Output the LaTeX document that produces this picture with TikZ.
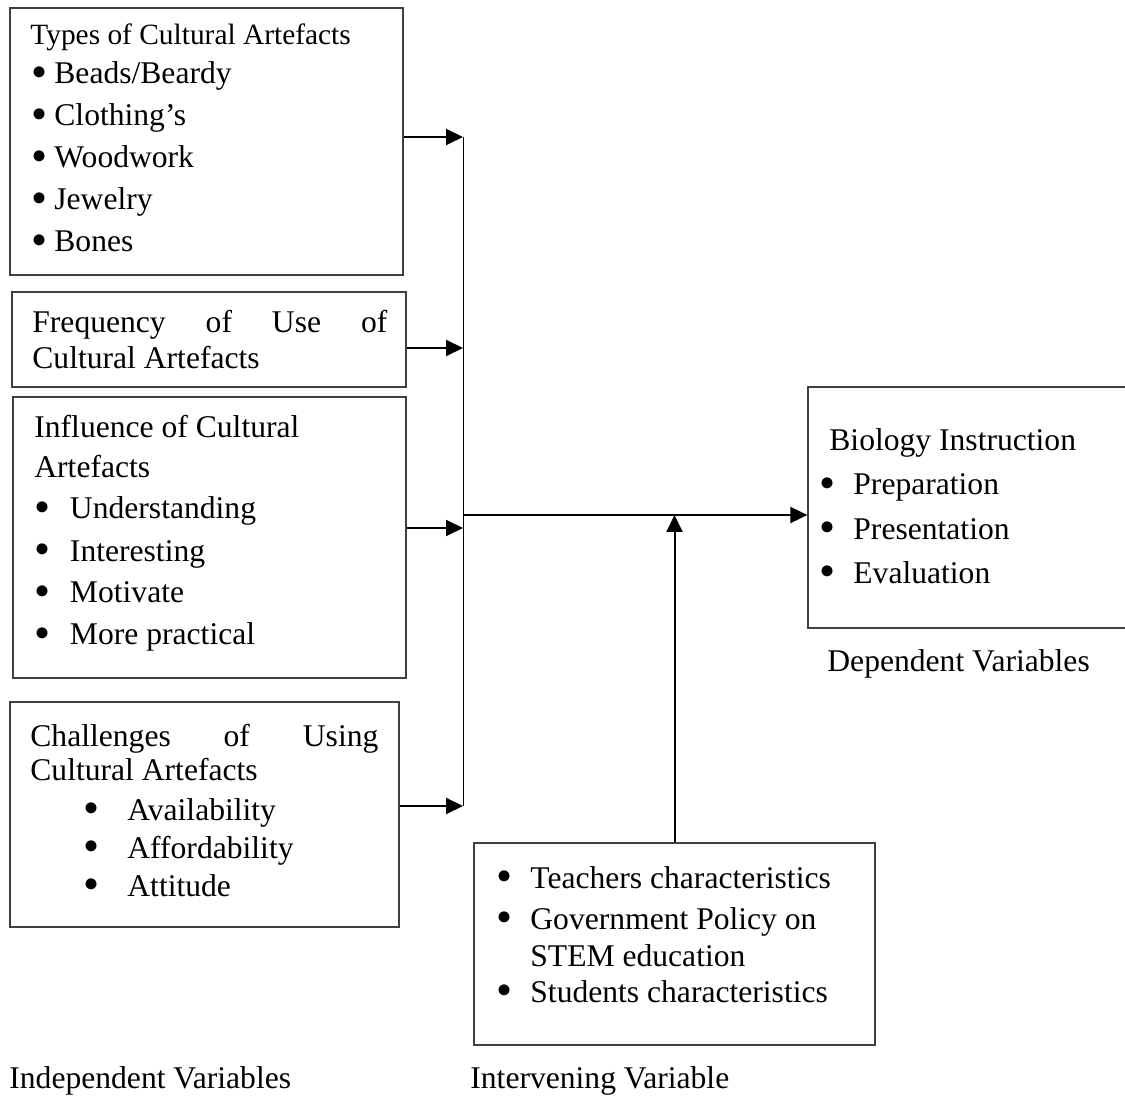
\documentclass[tikz,border=0pt]{standalone}
\usepackage{fontspec}
\usepackage{graphicx}
\setmainfont{Liberation Serif}
\usetikzlibrary{arrows.meta,fit}
\newcommand\bodysz{\fontsize{15.8pt}{19pt}\selectfont}
\newcommand\titlesz{\fontsize{14.7pt}{18pt}\selectfont}
\newcommand\bul[1]{\makebox[#1][l]{\smash{\raisebox{-0.12em}{\scalebox{1.45}{•}}}}}
\begin{document}
\begin{tikzpicture}[x=0.5pt,y=-0.5pt,
  box/.style={draw=black!75, line width=0.65pt, inner sep=0pt},
  txt/.style={anchor=base west, inner sep=0pt, font=\bodysz},
  ttl/.style={anchor=base west, inner sep=0pt, font=\titlesz},
  arr/.style={line width=1pt, -{Triangle[length=8.5pt,width=8pt]}},
  thin/.style={line width=0.5pt}]
\clip (0,0) rectangle (1125,1101);
% boxes
\node[box, fit={(10,8) (403,275)}] (b1) {};
\node[box, fit={(12,292) (406,387)}] (b2) {};
\node[box, fit={(13,397) (406,678)}] (b3) {};
\node[box, fit={(10,702) (399,927)}] (b5) {};
\node[box, fit={(808,387) (1140,628)}] (b4) {};
\node[box, fit={(474,843) (875,1045)}] (b6) {};
% texts box 1
\node[ttl] (t1) at (30,45) {Types of Cultural Artefacts};
\node[txt] (t1a) at (31,84) {\bul{11.5pt}Beads/Beardy};
\node[txt] (t1b) at (31,126) {\bul{11.5pt}Clothing’s};
\node[txt] (t1c) at (31,168) {\bul{11.5pt}Woodwork};
\node[txt] (t1d) at (31,210) {\bul{11.5pt}Jewelry};
\node[txt] (t1e) at (31,252) {\bul{11.5pt}Bones};
% box 2
\node[txt] (t2a) at (32,333) {\makebox[177.5pt][s]{Frequency of Use of}};
\node[txt] (t2b) at (32,369) {Cultural Artefacts};
% box 3
\node[txt] (t3) at (34,438) {Influence of Cultural};
\node[txt] (t3x) at (34,478) {Artefacts};
\node[txt] (t3a) at (34,519) {\bul{17.8pt}Understanding};
\node[txt] (t3b) at (34,561) {\bul{17.8pt}Interesting};
\node[txt] (t3c) at (34,603) {\bul{17.8pt}Motivate};
\node[txt] (t3d) at (34,645) {\bul{17.8pt}More practical};
% box 5
\node[txt] (t5a) at (30,746) {\makebox[174pt][s]{Challenges of Using}};
\node[txt] (t5b) at (30,780) {Cultural Artefacts};
\node[txt] (t5c) at (83,820) {\bul{22pt}Availability};
\node[txt] (t5d) at (83,858) {\bul{22pt}Affordability};
\node[txt] (t5e) at (83,896) {\bul{22pt}Attitude};
% box 4
\node[txt] (t4) at (829,451) {Biology Instruction};
\node[txt] (t4a) at (819,495) {\bul{17pt}Preparation};
\node[txt] (t4b) at (819,539) {\bul{17pt}Presentation};
\node[txt] (t4c) at (819,583) {\bul{17pt}Evaluation};
% box 6
\node[txt] (t6a) at (496,888) {\bul{17pt}Teachers characteristics};
\node[txt] (t6b) at (496,929) {\bul{17pt}Government Policy on};
\node[txt] (t6c) at (530,966) {STEM education};
\node[txt] (t6d) at (496,1002) {\bul{17pt}Students characteristics};
% labels
\node[txt] (l1) at (9,1088) {Independent Variables};
\node[txt] (l2) at (470,1088) {Intervening Variable};
\node[txt] (l3) at (827,671) {Dependent Variables};
% connectors
\coordinate (j1) at (463,137);
\coordinate (j2) at (463,348);
\coordinate (j3) at (463,528);
\coordinate (j4) at (463,806);
\coordinate (jm) at (463,515);
\draw[thin] (j1) -- (j4);
\draw[arr] (b1.east |- j1) -- (j1);
\draw[arr] (b2.east |- j2) -- (j2);
\draw[arr] (b3.east |- j3) -- (j3);
\draw[arr] (b5.east |- j4) -- (j4);
\draw[arr] (jm) -- (b4.west |- jm);
\draw[arr] (b6.north) -- (b6.north |- jm);
\end{tikzpicture}
\end{document}
